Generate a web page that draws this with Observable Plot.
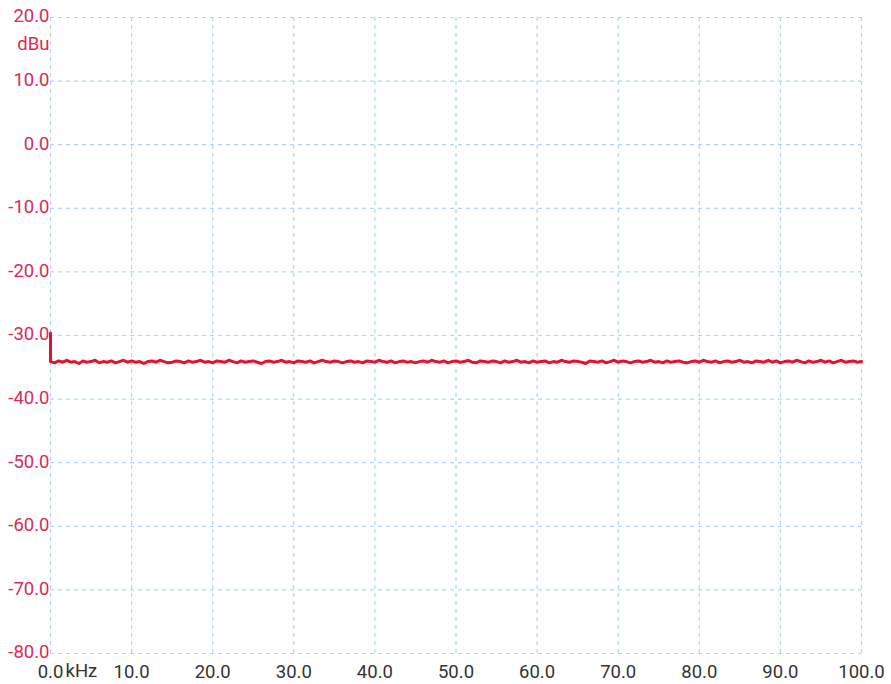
<!DOCTYPE html>
<html>
<head>
<meta charset="utf-8">
<script src="https://cdn.jsdelivr.net/npm/d3@7"></script>
<script src="https://cdn.jsdelivr.net/npm/@observablehq/plot@0.6"></script>
<style>
  html, body { margin: 0; padding: 0; background: #fff; }
  #chart { width: 891px; height: 684px; }
  svg { font-family: Roboto, "Noto Sans", sans-serif; }
</style>
</head>
<body>
<div id="chart"></div>
<script>
const xTicks = [0, 10, 20, 30, 40, 50, 60, 70, 80, 90, 100];
const yTicks = [20, 10, 0, -10, -20, -30, -40, -50, -60, -70, -80];
const xUnit = "kHz";
const yUnit = "dBu";
// level at the DC bin (0 kHz)
const startLevel = -29.6;
// spectrum level (dBu) sampled every 0.5 kHz from 0 to 100 kHz
const stepKHz = 0.5;
const levels = [
-34.1,-34.3,-34.0,-34.2,-33.9,-34.2,-34.1,-34.4,-34.0,-34.2,
-34.1,-33.9,-34.3,-34.1,-34.2,-34.0,-34.3,-34.1,-33.9,-34.2,
-34.0,-34.2,-34.1,-34.4,-34.1,-34.0,-34.2,-33.9,-34.1,-34.3,
-34.2,-34.0,-34.1,-34.3,-34.0,-34.2,-34.1,-33.9,-34.2,-34.1,
-34.3,-34.0,-34.1,-34.2,-33.9,-34.1,-34.3,-34.0,-34.2,-34.1,
-34.0,-34.2,-34.4,-34.1,-34.0,-34.2,-34.1,-33.9,-34.2,-34.1,
-34.3,-34.0,-34.1,-34.2,-34.0,-34.3,-34.1,-33.9,-34.1,-34.2,
-34.0,-34.1,-34.3,-34.1,-34.0,-34.2,-34.1,-34.3,-34.0,-34.1,
-34.2,-33.9,-34.1,-34.2,-34.0,-34.3,-34.1,-34.0,-34.2,-34.1,
-34.3,-34.1,-34.0,-34.2,-33.9,-34.1,-34.2,-34.0,-34.3,-34.1,
-34.0,-34.2,-34.1,-33.9,-34.2,-34.3,-34.0,-34.1,-34.2,-34.0,
-34.1,-34.3,-34.0,-34.2,-34.1,-33.9,-34.2,-34.1,-34.3,-34.0,
-34.2,-34.1,-34.0,-34.3,-34.1,-34.2,-33.9,-34.1,-34.2,-34.0,
-34.1,-34.2,-34.4,-34.0,-34.1,-34.2,-34.0,-34.3,-34.1,-33.9,
-34.2,-34.0,-34.1,-34.3,-34.1,-34.0,-34.2,-34.1,-33.9,-34.2,
-34.1,-34.3,-34.0,-34.2,-34.1,-34.0,-34.2,-34.3,-34.1,-34.0,
-34.2,-33.9,-34.1,-34.2,-34.0,-34.3,-34.1,-34.0,-34.2,-34.1,
-33.9,-34.2,-34.1,-34.3,-34.0,-34.1,-34.2,-33.9,-34.2,-34.0,
-34.3,-34.1,-34.0,-34.2,-33.9,-34.1,-34.3,-34.0,-34.2,-34.1,
-33.9,-34.2,-34.0,-34.3,-34.1,-33.9,-34.2,-34.1,-34.0,-34.2,
-34.1
];

const data = [{f: 0, v: startLevel}, ...levels.map((v, i) => ({f: i * stepKHz, v}))];
const labelRed = "#d92b55";
const gridBlue = "#b0d8e6";
const fs = 18.5;

const chart = Plot.plot({
  width: 891,
  height: 684,
  marginLeft: 50,
  marginRight: 30,
  marginTop: 17,
  marginBottom: 31,
  style: {fontFamily: "Roboto, 'Noto Sans', sans-serif", background: "#fff"},
  x: {domain: [0, 100]},
  y: {domain: [-80, 20]},
  marks: [
    Plot.gridX(xTicks, {stroke: gridBlue, strokeOpacity: 1, strokeWidth: 1.2, strokeDasharray: "4,4"}),
    Plot.gridY(yTicks, {stroke: gridBlue, strokeOpacity: 1, strokeWidth: 1.2, strokeDasharray: "4,4"}),
    Plot.axisY(yTicks, {tickSize: 0, tickPadding: 1, dy: -1, tickFormat: d => d.toFixed(1), fill: labelRed, fontSize: fs, label: null}),
    Plot.axisX(xTicks, {tickSize: 0, tickPadding: 11, tickFormat: d => d.toFixed(1), fill: "#333", fontSize: fs, label: null}),
    Plot.text([yUnit], {x: 0, y: 20, text: d => d, textAnchor: "end", dx: -1, dy: 27, fill: labelRed, fontSize: fs}),
    Plot.text([xUnit], {x: 0, y: -80, text: d => d, textAnchor: "start", dx: 15, dy: 18, fill: "#333", fontSize: fs}),
    Plot.line(data, {x: "f", y: "v", stroke: "#e3122f", strokeWidth: 3})
  ]
});
document.getElementById("chart").append(chart);
</script>
</body>
</html>
